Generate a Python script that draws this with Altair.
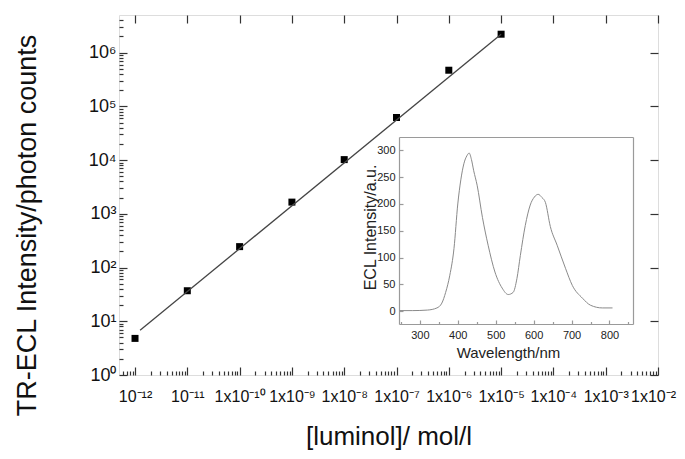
import json
import altair as alt
import pandas as pd

# ---- main plot data ----
conc = [1e-12, 1e-11, 1e-10, 1e-9, 1e-8, 1e-7, 1e-6, 1e-5]
counts = [4.8, 37, 245, 1650, 10200, 62000, 470000, 2200000]
fit_conc = [1.25e-12, 1e-5]
fit_counts = [6.8, 2.2e6]

x_tick_labels = ["10⁻¹²", "10⁻¹¹", "1x10⁻¹⁰", "1x10⁻⁹", "1x10⁻⁸", "1x10⁻⁷",
                 "1x10⁻⁶", "1x10⁻⁵", "1x10⁻⁴", "1x10⁻³", "1x10⁻²"]
y_tick_labels = ["10⁰", "10¹", "10²", "10³", "10⁴", "10⁵", "10⁶"]

# ---- inset data ----
wavelength = [247, 280, 320, 345, 358, 368, 379, 390, 400, 408, 416, 424, 430, 436,
              442, 451, 465, 480, 498, 517, 533, 546, 556, 565, 578, 591, 602, 612,
              622, 631, 644, 662, 684, 702, 729, 750, 781, 808]
intensity = [1, 1, 2, 6, 15, 35, 67, 117, 200, 245, 275, 290, 295, 283,
             262, 235, 175, 123, 73, 43, 31, 35, 61, 104, 160, 198, 213, 218,
             212, 203, 158, 123, 80, 48, 24, 11, 6, 6]
inset_x_ticks = [300, 400, 500, 600, 700, 800]
inset_x_minor = [250, 350, 450, 550, 650, 750, 850]
inset_y_ticks = [0, 50, 100, 150, 200, 250, 300]

# ---- layout ----
W, H = 539, 360
FONT = "Liberation Sans"
FRAME = "#333333"

x_major = [10.0 ** e for e in range(-12, -1)]
x_minor = [m * 10.0 ** e for e in range(-13, -2) for m in range(2, 10)
           if 6e-13 <= m * 10.0 ** e < 1e-2]
y_major = [10.0 ** e for e in range(0, 7)]
y_minor = [m * 10.0 ** e for e in range(0, 7) for m in range(2, 10)
           if m * 10.0 ** e < 4.5e6]

x_expr = json.dumps(x_tick_labels, ensure_ascii=False) + "[round(log(datum.value)/LN10)+12]"
y_expr = json.dumps(y_tick_labels, ensure_ascii=False) + "[round(log(datum.value)/LN10)]"

mx = alt.Scale(type="log", domain=[4.94e-13, 1e-2], nice=False)
my = alt.Scale(type="log", domain=[1, 5.01e6], nice=False)

pts = pd.DataFrame({"conc": conc, "counts": counts})
fit = pd.DataFrame({"conc": fit_conc, "counts": fit_counts})


def tick_axis(orient, offset, values, size, color=FRAME, domain=False):
    return alt.Axis(orient=orient, offset=offset, values=values, labels=False,
                    domain=domain, domainColor=color, domainWidth=1.2,
                    grid=False, ticks=True, tickSize=size,
                    tickColor=color, tickWidth=1.2, title="")


L1 = alt.Chart(pts).mark_square(size=49, color="black", opacity=1).encode(
    x=alt.X("conc:Q", scale=mx, axis=alt.Axis(
        orient="bottom", values=x_major, labelExpr=x_expr, ticks=False,
        domain=False, grid=False, labelFont=FONT, labelFontSize=16,
        labelColor="#111", labelPadding=13, labelOverlap=False,
        labelFlush=False, labelBound=False,
        labelOffset={"condition": {"test": "datum.value > 5e-3", "value": -5}, "value": 0},
        title="[luminol]/ mol/l", titleFont=FONT, titleFontSize=26,
        titleFontWeight="normal", titleColor="#111", titleY=61,
        titleBaseline="middle")),
    y=alt.Y("counts:Q", scale=my, axis=alt.Axis(
        orient="left", values=y_major, labelExpr=y_expr, ticks=False,
        domain=False, grid=False, labelFont=FONT, labelFontSize=18,
        labelColor="#111", labelPadding=3, labelOverlap=False,
        labelFlush=False, labelBound=False,
        title="TR-ECL Intensity/photon counts", titleFont=FONT,
        titleFontSize=27, titleFontWeight="normal", titleColor="#111",
        titleAngle=270, titleX=-92, titleY=210, titleBaseline="middle",
        titleAlign="center")),
)

L2 = alt.Chart(fit).mark_line(color="#444444", strokeWidth=1.3).encode(
    x=alt.X("conc:Q", scale=mx, axis=tick_axis("top", -H, x_major, 8)),
    y=alt.Y("counts:Q", scale=my, axis=tick_axis("right", -W, y_major, 8)),
)

L3 = alt.Chart(pts).mark_point(opacity=0).encode(
    x=alt.X("conc:Q", scale=mx, axis=tick_axis("top", -H, x_minor, 4)),
    y=alt.Y("counts:Q", scale=my, axis=tick_axis("right", -W, y_minor, 4)),
)

L4 = alt.Chart(pts).mark_point(opacity=0).encode(
    x=alt.X("conc:Q", scale=mx, axis=tick_axis("bottom", -H, x_major, 8)),
    y=alt.Y("counts:Q", scale=my, axis=tick_axis("left", -W, y_major, 8)),
)

main = alt.layer(L1, L2, L3, L4).resolve_axis(x="independent", y="independent")

# ---- inset ----
IL, IR, IT, IB = 280, 514, 122, 309
spec = pd.DataFrame({"wl": wavelength, "inten": intensity})
ix = alt.Scale(domain=[245, 862], range=[IL, IR], nice=False, zero=False)
iy = alt.Scale(domain=[-24, 325], range=[IB, IT], nice=False, zero=False)
IFR = "#9a9a9a"

L5 = alt.Chart(spec).mark_line(color="#8a8a8a", strokeWidth=1, interpolate="monotone").encode(
    x=alt.X("wl:Q", scale=ix, axis=tick_axis("top", -IB, inset_x_ticks, 4, IFR, True)),
    y=alt.Y("inten:Q", scale=iy, axis=tick_axis("right", IL - W, inset_y_ticks, 4, IFR, True)),
)

L6 = alt.Chart(spec).mark_point(opacity=0).encode(
    x=alt.X("wl:Q", scale=ix, axis=tick_axis("top", -IB, inset_x_minor, 2.5, IFR)),
    y=alt.Y("inten:Q", scale=iy, axis=None),
)

L7 = alt.Chart(spec).mark_point(opacity=0).encode(
    x=alt.X("wl:Q", scale=ix, axis=alt.Axis(
        orient="bottom", offset=IB - H, values=inset_x_ticks, ticks=False,
        domain=False, grid=False, labelFont=FONT, labelFontSize=11,
        labelColor="#222", labelPadding=5, labelOverlap=False,
        labelFlush=False, labelBound=False,
        title="Wavelength/nm", titleFont=FONT, titleFontSize=15,
        titleFontWeight="normal", titleColor="#222", titleX=389,
        titleY=28, titleBaseline="middle")),
    y=alt.Y("inten:Q", scale=iy, axis=alt.Axis(
        orient="left", offset=-IL, values=inset_y_ticks, ticks=False,
        domain=False, grid=False, labelFont=FONT, labelFontSize=11,
        labelColor="#222", labelPadding=4, labelOverlap=False,
        labelFlush=False, labelBound=False,
        title="ECL Intensity/a.u.", titleFont=FONT, titleFontSize=16,
        titleFontWeight="normal", titleColor="#222", titleAngle=270,
        titleX=-29, titleY=212, titleBaseline="middle", titleAlign="center")),
)

L8 = alt.Chart(spec).mark_point(opacity=0).encode(
    x=alt.X("wl:Q", scale=ix, axis=tick_axis("bottom", IT - H, [], 0, IFR, True)),
    y=alt.Y("inten:Q", scale=iy, axis=tick_axis("left", -IR, [], 0, IFR, True)),
)

inset = alt.layer(L5, L6, L7, L8).resolve_axis(x="independent", y="independent")

chart = alt.layer(main, inset).resolve_scale(
    x="independent", y="independent"
).resolve_axis(
    x="independent", y="independent"
).properties(
    width=W, height=H,
    autosize=alt.AutoSizeParams(type="none"),
    padding={"left": 111, "top": 7, "right": 19, "bottom": 76},
).configure_view(
    stroke=FRAME, strokeWidth=1.5
).configure(background="white")

chart.save("out.html", embed_options={"renderer": "svg", "actions": False})
